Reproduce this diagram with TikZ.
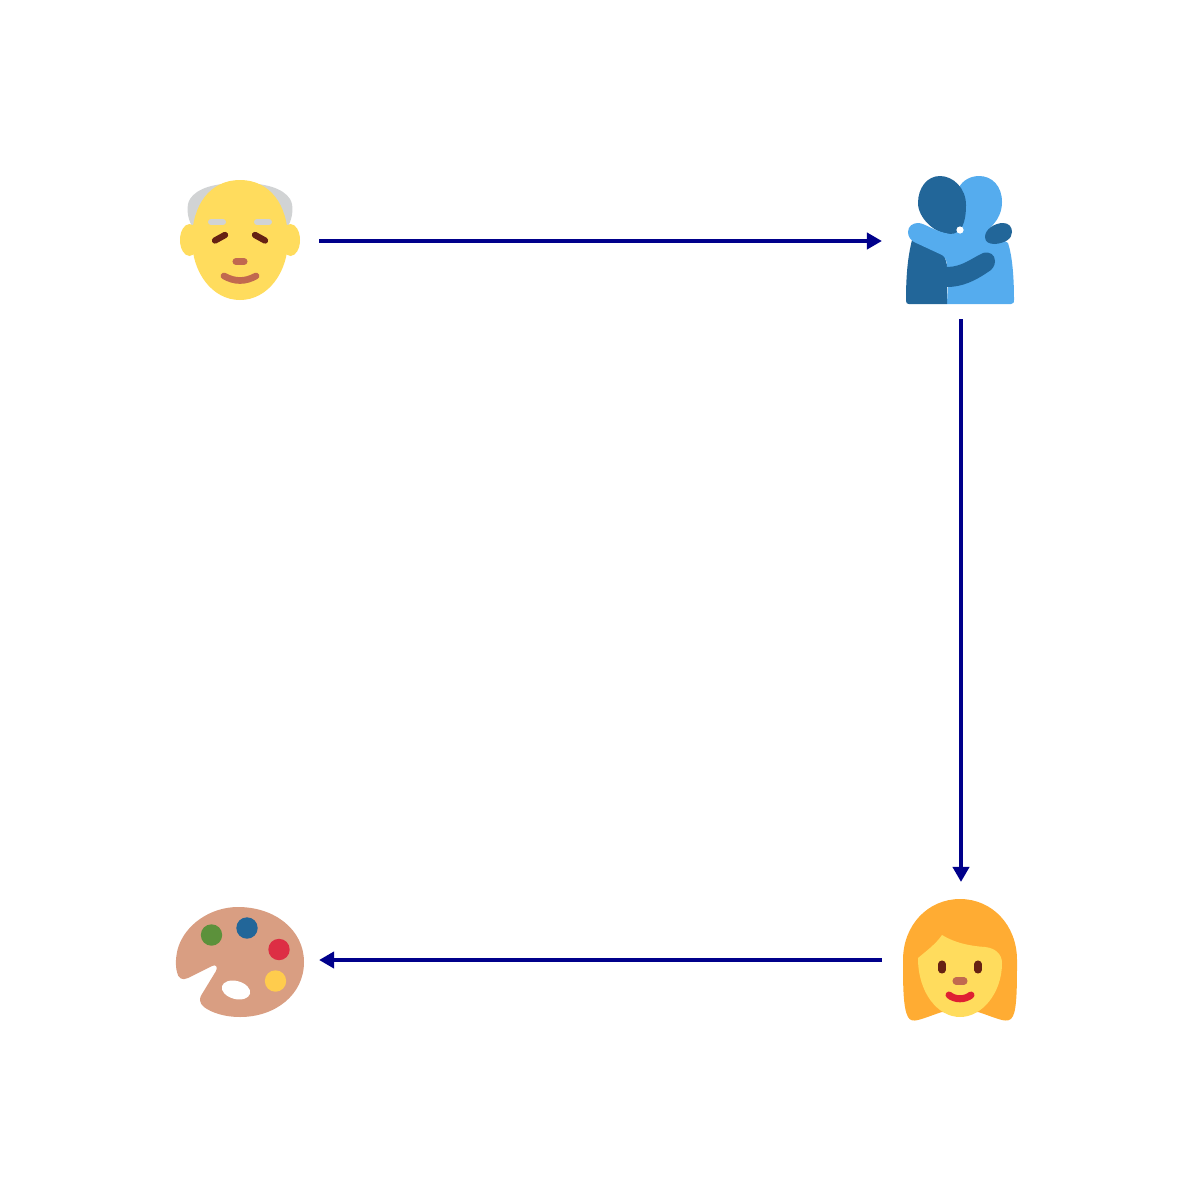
\documentclass[tikz,border=0pt]{standalone}
\usepackage{tikz}
\usetikzlibrary{arrows.meta}
\definecolor{skin}{HTML}{FFDC5D}
\definecolor{greyhair}{HTML}{D1D3D4}
\definecolor{darkeye}{HTML}{662113}
\definecolor{nosecol}{HTML}{C1694F}
\definecolor{hughlight}{HTML}{55ACEE}
\definecolor{hugdark}{HTML}{226699}
\definecolor{orangehair}{HTML}{FFAC33}
\definecolor{lipred}{HTML}{DF1F32}
\definecolor{palettecol}{HTML}{D99E82}
\definecolor{paintgreen}{HTML}{5C913B}
\definecolor{paintred}{HTML}{DD2E44}
\definecolor{paintyellow}{HTML}{FFCC4D}
\definecolor{flowcol}{HTML}{00008B}
\tikzset{icon/.style = {minimum width=1.58cm, minimum height=1.56cm, inner sep=0pt, outer sep=0pt}}
\tikzset{flow/.style = {draw=flowcol, line width=1.15pt, -{Triangle[length=0.15cm,width=0.16cm]}}}
\begin{document}
\begin{tikzpicture}[x=0.01cm,y=-0.01cm]
	\useasboundingbox (0,0) rectangle (1200,1200);
	\fill[greyhair] (192,226) .. controls (187,218) and (186,205) .. (190,199) .. controls (197,188) and (215,183) .. (240,183) .. controls (265,183) and (283,188) .. (290,199) .. controls (294,205) and (293,218) .. (288,226) -- cycle;
	\fill[skin] (189.5,240) ellipse [x radius=9.5, y radius=16];
	\fill[skin] (290.5,240) ellipse [x radius=9.5, y radius=16];
	\fill[skin] (240,180) .. controls (210,180) and (192,205) .. (192,240) .. controls (192,272) and (212,300) .. (240,300) .. controls (268,300) and (288,272) .. (288,240) .. controls (288,205) and (270,180) .. (240,180) -- cycle;
	\draw[greyhair, line width=1.7pt, line cap=round] (211,222) -- (223,222);
	\draw[greyhair, line width=1.7pt, line cap=round] (257,222) -- (269,222);
	\draw[darkeye, line width=1.8pt, line cap=round] (215,240.5) -- (225,235);
	\draw[darkeye, line width=1.8pt, line cap=round] (255,235) -- (265,240.5);
	\draw[nosecol, line width=2pt, line cap=round] (236,261.5) -- (244,261.5);
	\draw[nosecol, line width=1.9pt, line cap=round] (224,276) .. controls (235,282) and (245,282) .. (256,276);

	\fill[hughlight] (947,304) -- (1011,304) .. controls (1014,304) and (1014,302) .. (1014,300) .. controls (1014,275) and (1012,255) .. (1008,243) .. controls (1000,238) and (990,232) .. (990,228) .. controls (998,220) and (1002,212) .. (1002,202) .. controls (1002,186) and (992,176) .. (979,176) .. controls (968,176) and (960,183) .. (958,190) -- (950,240) -- cycle;
	\fill[hugdark] (912,240) .. controls (907,260) and (906,280) .. (906,301) .. controls (906,303) and (907,304) .. (909,304) -- (947,304) -- (947,265) -- (943,250) -- cycle;
	\fill[hugdark] (940,176) .. controls (927,176) and (918,188) .. (918,203) .. controls (918,218) and (935,234) .. (950,234) .. controls (962,234) and (966,222) .. (966,205) .. controls (966,188) and (953,176) .. (940,176) -- cycle;
	\fill[hughlight] (908,232) .. controls (908,226) and (913,223) .. (918,223) .. controls (925,223) and (935,232) .. (950,234) -- (975,234) -- (970,265) -- (947,267) .. controls (947,260) and (945,257) .. (942,255) -- (914,242) .. controls (911,240) and (908,237) .. (908,232) -- cycle;
	\fill[hugdark] (947,267) .. controls (962,267) and (972,258) .. (983,253) .. controls (990,251) and (995,255) .. (995,261) .. controls (995,266) and (992,270) .. (988,272) .. controls (975,281) and (962,287) .. (947,287) -- cycle;
	\fill[hugdark] (985,237) .. controls (985,229) and (995,223) .. (1003,223) .. controls (1009,223) and (1012,227) .. (1012,232) .. controls (1012,239) and (1005,243) .. (995,244) .. controls (989,244) and (985,242) .. (985,237) -- cycle;
	\fill[white] (960,230) circle [radius=3.6];

	\fill[orangehair] (960,899) .. controls (928,899) and (903,925) .. (903,960) .. controls (903,985) and (903,1008) .. (908,1017) .. controls (910,1021) and (914,1021) .. (918,1020) .. controls (926,1018) and (935,1014) .. (942,1012) -- (978,1012) .. controls (985,1014) and (994,1018) .. (1002,1020) .. controls (1006,1021) and (1011,1021) .. (1013,1016) .. controls (1017,1008) and (1017,985) .. (1017,960) .. controls (1017,925) and (992,899) .. (960,899) -- cycle;
	\fill[skin] (918,958) .. controls (925,952) and (936,944) .. (942,935) .. controls (955,943) and (970,946) .. (985,947) .. controls (995,948) and (1002,954) .. (1002,963) .. controls (1002,993) and (982,1017) .. (960,1017) .. controls (938,1017) and (918,993) .. (918,958) -- cycle;
	\draw[darkeye, line width=2pt, line cap=round] (942,964) -- (942,970);
	\draw[darkeye, line width=2pt, line cap=round] (978,964) -- (978,970);
	\draw[nosecol, line width=2pt, line cap=round] (956,981) -- (964,981);
	\draw[lipred, line width=2pt, line cap=round] (949,995) .. controls (955,1000) and (965,1000) .. (971,995);

	\fill[palettecol] (238,907) .. controls (275,907) and (304,930) .. (304,962) .. controls (304,995) and (275,1017) .. (240,1017) .. controls (225,1017) and (212,1013) .. (204,1007) .. controls (199,1003) and (199,998) .. (202,994) -- (216,971) .. controls (218,967) and (216,964) .. (212,966) -- (188,978) .. controls (182,981) and (178,978) .. (177,972) .. controls (175,965) and (176,955) .. (178,948) .. controls (185,925) and (210,907) .. (238,907) -- cycle;
	\fill[white, rotate around={-15:(236,990)}] (236,990) ellipse [x radius=14.5, y radius=9];
	\fill[paintgreen] (211.5,935) circle [radius=10.7];
	\fill[hugdark] (247,928) circle [radius=10.7];
	\fill[paintred] (279,949.5) circle [radius=10.7];
	\fill[paintyellow] (275.5,981) circle [radius=10.7];

	\node[icon] (elder) at (240,241) {};
	\node[icon] (embrace) at (961,241) {};
	\node[icon] (woman) at (961,960) {};
	\node[icon] (palette) at (240,960) {};
	\draw[flow] (elder) -- (embrace);
	\draw[flow] (embrace) -- (woman);
	\draw[flow] (woman) -- (palette);
\end{tikzpicture}
\end{document}
